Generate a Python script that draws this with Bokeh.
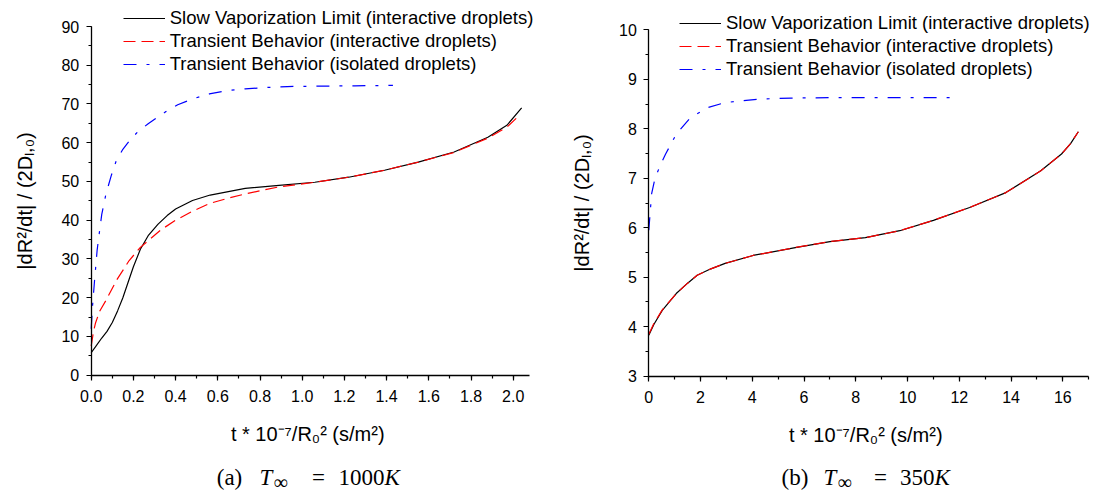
from bokeh.plotting import figure
from bokeh.models import (Range1d, Legend, LegendItem, Label, SingleIntervalTicker,
                          PrintfTickFormatter)
from bokeh.layouts import row
from bokeh.embed import file_html
from bokeh.resources import INLINE

# ---------------- data: (a) T_inf = 1000 K ----------------
a_slow_x = [0, 0.02, 0.05, 0.075, 0.1, 0.125, 0.15, 0.175, 0.2, 0.233, 0.27, 0.317,
            0.36, 0.4, 0.48, 0.564, 0.65, 0.73, 0.89, 1.06, 1.22, 1.39, 1.55, 1.72,
            1.88, 1.97, 2.04]
a_slow_y = [5.8, 7.3, 9.6, 11.3, 13.6, 16.6, 20.0, 24.0, 28.0, 32.5, 36.0, 39.0,
            41.2, 42.9, 45.1, 46.5, 47.4, 48.2, 49.0, 49.8, 51.1, 52.9, 55.0, 57.6,
            61.4, 64.5, 69.0]

a_trans_x = [0, 0.01, 0.02, 0.04, 0.07, 0.12, 0.18, 0.233, 0.27, 0.33, 0.4, 0.48, 0.56,
             0.65, 0.73, 0.89, 1.06, 1.22, 1.39, 1.55, 1.72, 1.88, 1.97, 2.03]
a_trans_y = [7.5, 11.0, 13.4, 16.5, 19.3, 24.5, 29.6, 33.0, 34.7, 37.5, 40.0, 42.3, 44.3,
             45.7, 46.8, 48.6, 49.8, 51.1, 52.9, 55.0, 57.5, 61.2, 64.0, 67.1]

a_iso_x = [0, 0.006, 0.016, 0.028, 0.036, 0.05, 0.07, 0.095, 0.119, 0.15, 0.183, 0.22,
           0.27, 0.35, 0.41, 0.48, 0.56, 0.65, 0.73, 0.81, 0.93, 1.06, 1.25, 1.43]
a_iso_y = [12.0, 17.6, 24.5, 32.2, 35.7, 41.5, 46.8, 51.5, 55.4, 58.3, 60.6, 62.8,
           64.9, 67.9, 69.8, 71.3, 72.6, 73.5, 73.9, 74.2, 74.5, 74.6, 74.7, 74.8]

# ---------------- data: (b) T_inf = 350 K ----------------
b_slow_x = [0, 0.2, 0.52, 1.06, 1.5, 1.87, 2.4, 2.95, 4.03, 5.66, 7.0, 8.37, 9.7, 11.0,
            12.4, 13.8, 15.15, 15.95, 16.3, 16.6]
b_slow_y = [3.83, 4.05, 4.33, 4.67, 4.88, 5.04, 5.17, 5.28, 5.44, 5.60, 5.72, 5.80, 5.94,
            6.15, 6.41, 6.71, 7.15, 7.49, 7.70, 7.94]

b_trans_x = [0, 0.2, 0.52, 1.06, 1.5, 1.87, 2.4, 2.95, 4.03, 5.66, 7.0, 8.37, 9.7, 11.0,
             12.4, 13.8, 15.15, 15.95, 16.3, 16.6]
b_trans_y = [3.85, 4.07, 4.34, 4.67, 4.88, 5.04, 5.17, 5.28, 5.44, 5.60, 5.72, 5.80, 5.94,
             6.15, 6.41, 6.71, 7.15, 7.49, 7.70, 7.94]

b_iso_x = [0, 0.11, 0.24, 0.45, 0.65, 1.06, 1.6, 2.28, 2.95, 4.3, 5.5, 7.0, 9.0, 11.67]
b_iso_y = [5.95, 6.69, 7.0, 7.27, 7.49, 7.89, 8.22, 8.43, 8.53, 8.60, 8.62, 8.63, 8.63, 8.63]

legend_labels = ["Slow Vaporization Limit (interactive droplets)",
                 "Transient Behavior (interactive droplets)",
                 "Transient Behavior (isolated droplets)"]
y_label = "|dR\u00b2/dt| / (2D\u2097,\u2080)"
x_label = "t * 10\u207b\u2077/R\u2080\u00b2  (s/m\u00b2)"

SANS = "Liberation Sans"
SERIF = "Liberation Serif"
H = 491


def make_panel(xs, ys, width, xcal, ycal, xb, yb, xint, yint, xfmt, leg_loc, cap):
    # xcal = (value0, px0, value1, px1) in canvas px from left
    # ycal = (value0, px0, value1, px1) in canvas px from top
    xv0, xp0, xv1, xp1 = xcal
    sx = (xp1 - xp0) / (xv1 - xv0)
    x_start = xv0 - xp0 / sx
    x_end = x_start + width / sx
    yv0, yp0, yv1, yp1 = ycal
    sy = (yp0 - yp1) / (yv1 - yv0)
    y_start = yv0 - (H - yp0) / sy
    y_end = y_start + H / sy

    p = figure(width=width, height=H,
               x_range=Range1d(x_start, x_end), y_range=Range1d(y_start, y_end),
               output_backend="svg", toolbar_location=None, min_border=0)
    p.xgrid.visible = False
    p.ygrid.visible = False
    p.outline_line_color = None
    p.background_fill_color = "white"
    p.border_fill_color = "white"

    r1 = p.line(xs[0], ys[0], line_color="black", line_width=1.2)
    r2 = p.line(xs[1], ys[1], line_color="#ff0000", line_width=1.2, line_dash="12 6")
    r3 = p.line(xs[2], ys[2], line_color="#0000ff", line_width=1.2,
                line_dash="13 10 3 10")

    p.xaxis.ticker = SingleIntervalTicker(interval=xint, num_minor_ticks=2)
    p.yaxis.ticker = SingleIntervalTicker(interval=yint, num_minor_ticks=2)
    if xfmt:
        p.xaxis.formatter = PrintfTickFormatter(format=xfmt)
    p.xaxis.fixed_location = yb[0]
    p.yaxis.fixed_location = xb[0]
    p.xaxis.bounds = xb
    p.yaxis.bounds = yb
    for ax in (p.xaxis[0], p.yaxis[0]):
        ax.axis_line_width = 1.3
        ax.axis_line_color = "black"
        ax.major_tick_in = 0
        ax.major_tick_out = 5
        ax.minor_tick_in = 0
        ax.minor_tick_out = 3
        ax.major_tick_line_color = "black"
        ax.minor_tick_line_color = "black"
        ax.major_tick_line_width = 1.2
        ax.minor_tick_line_width = 1.2
        ax.major_label_text_font = SANS
        ax.major_label_text_font_size = "16px"
        ax.major_label_text_color = "black"
        ax.axis_label_text_font = SANS
        ax.axis_label_text_font_size = "20px"
        ax.axis_label_text_font_style = "normal"
        ax.axis_label_text_color = "black"
    p.xaxis.major_label_standoff = 10
    p.yaxis.major_label_standoff = 7
    p.xaxis.axis_label = x_label
    p.yaxis.axis_label = y_label
    p.xaxis.axis_label_standoff = 17
    p.yaxis.axis_label_standoff = 23

    legend = Legend(items=[LegendItem(label=legend_labels[0], renderers=[r1]),
                           LegendItem(label=legend_labels[1], renderers=[r2]),
                           LegendItem(label=legend_labels[2], renderers=[r3])],
                    location=leg_loc, padding=0, margin=0, spacing=1,
                    label_standoff=5, glyph_width=42, glyph_height=22,
                    label_height=22, label_text_font=SANS,
                    label_text_font_size="18.5px", label_text_color="black",
                    border_line_alpha=0, background_fill_alpha=0)
    p.add_layout(legend)

    # caption pieces (screen units, canvas px from left / bottom)
    for txt, x, y, align, size, style in cap:
        p.add_layout(Label(x=x, y=y, x_units="screen", y_units="screen", text=txt,
                           text_font=SERIF, text_font_size=size, text_font_style=style,
                           text_align=align, text_baseline="alphabetic",
                           text_color="black"))
    return p


CB = 14   # caption baseline offset
cap_a = [("(a)", 229, CB, "center", "23px", "normal"),
         ("T", 259, CB, "left", "23px", "italic"),
         ("\u221e", 273, CB - 4, "left", "20px", "normal"),
         ("=", 318, CB, "center", "23px", "normal"),
         ("1000", 384, CB, "right", "23px", "normal"),
         ("K", 384, CB, "left", "23px", "italic")]
cap_b = [("(b)", 242.5, CB, "center", "23px", "normal"),
         ("T", 271, CB, "left", "23px", "italic"),
         ("\u221e", 285, CB - 4, "left", "20px", "normal"),
         ("=", 328, CB, "center", "23px", "normal"),
         ("350", 382, CB, "right", "23px", "normal"),
         ("K", 382, CB, "left", "23px", "italic")]

p1 = make_panel([a_slow_x, a_trans_x, a_iso_x], [a_slow_y, a_trans_y, a_iso_y], 552,
                (0, 90.7, 2.0, 512.7), (0, 374.7, 90, 26.0), (0, 2.075), (0, 90),
                0.2, 10, "%.1f", (122.7, 416), cap_a)
p2 = make_panel([b_slow_x, b_trans_x, b_iso_x], [b_slow_y, b_trans_y, b_iso_y], 548,
                (0, 96.3, 16, 510.3), (3, 375.7, 10, 29.3), (0, 17), (3, 10),
                2, 1, None, (127, 410.7), cap_b)

layout = row(p1, p2)
open("out.html", "w").write(file_html(layout, INLINE))
